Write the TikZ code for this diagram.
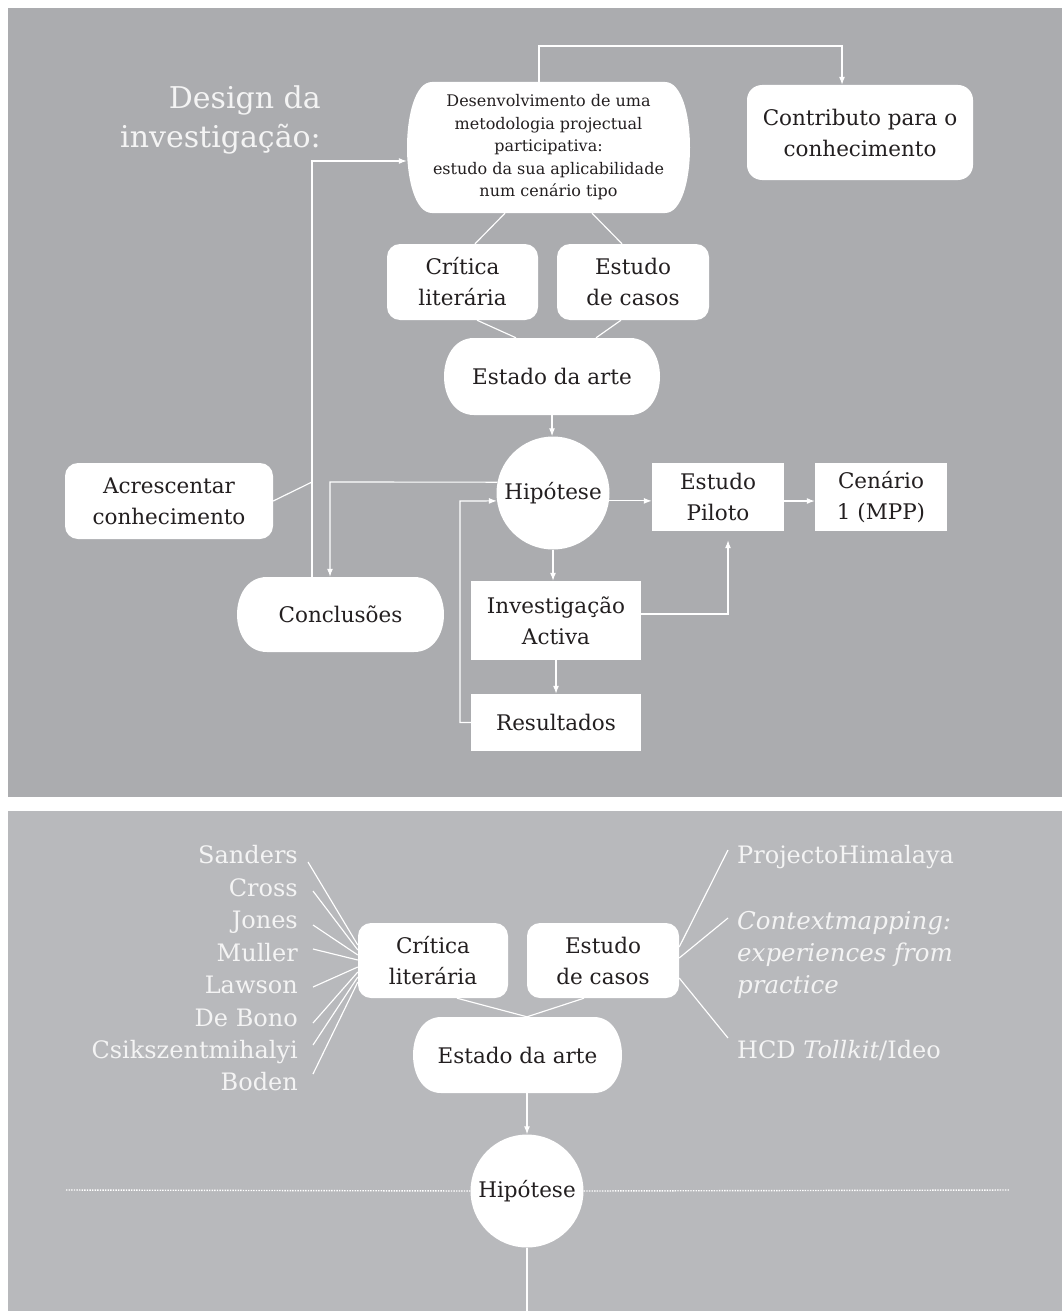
\documentclass[tikz,border=0pt]{standalone}
\usepackage{fontspec}
\setmainfont{DejaVu Serif}
\usetikzlibrary{arrows.meta}

\definecolor{panelA}{HTML}{ABACAF}
\definecolor{panelB}{HTML}{B8B9BC}
\definecolor{ink}{HTML}{231F20}
\definecolor{paper}{HTML}{F4F4F4}

% white box with flat top and bottom and bulging sides:
% centre (#1,#2), half width #3, half height #4, bulge of the sides #5
\newcommand\lensbody[5]{%
  \fill[lensfill]
    ({#1-#3+#5},{#2-#4}) -- ({#1+#3-#5},{#2-#4})
    .. controls ({#1+#3+0.333*#5},{#2-#4}) and ({#1+#3+0.333*#5},{#2+#4}) .. ({#1+#3-#5},{#2+#4})
    -- ({#1-#3+#5},{#2+#4})
    .. controls ({#1-#3-0.333*#5},{#2+#4}) and ({#1-#3-0.333*#5},{#2-#4}) .. ({#1-#3+#5},{#2-#4})
    -- cycle;}

\begin{document}
\begin{tikzpicture}[x=1pt,y=-1pt,
  lbl/.style={font=\fontsize{21.5}{31}\selectfont, text=ink, align=center, inner sep=0pt},
  card/.style={lbl, rectangle, rounded corners=13pt, fill=white},
  flatbox/.style={lbl, rectangle, fill=white},
  lensfill/.style={fill=white},
  ball/.style={lbl, circle, fill=white, minimum size=113pt},
  namelbl/.style={font=\fontsize{24}{32.4}\selectfont, text=paper, inner sep=0pt, text height=17pt, text depth=0pt},
  wire/.style={draw=white, line width=1.15pt},
  arr/.style={wire, -{Latex[length=8pt,width=6pt]}},
  dots/.style={draw=white, line width=1.4pt, dash pattern=on 1.4pt off 1.2pt}
]
\useasboundingbox (0,0) rectangle (1062,1311);
\fill[white] (0,0) rectangle (1062,1311);
\fill[panelA] (8,8) rectangle (1062,797);
\fill[panelB] (8,811) rectangle (1062,1311);

% ---------- upper panel: research design ----------
\node[font=\fontsize{30}{39}\selectfont, text=paper, align=right, anchor=east, inner sep=0pt]
  (heading) at (321,120) {Design da\\investigação:};

\lensbody{548.5}{147.5}{141.5}{65.5}{25}
\node[lbl, minimum width=283pt, minimum height=131pt, font=\fontsize{16}{22.5}\selectfont] (desen) at (548.5,147.5)
  {Desenvolvimento de uma\\metodologia projectual\\participativa:\\estudo da sua aplicabilidade\\num cenário tipo};
\node[card, rounded corners=15pt, minimum width=226pt, minimum height=95pt] (contrib) at (860,132.5)
  {Contributo para o\\conhecimento};
\node[card, minimum width=151pt, minimum height=76pt] (crit) at (462.5,282) {Crítica\\literária};
\node[card, minimum width=152pt, minimum height=76pt] (estu) at (633,282) {Estudo\\de casos};
\lensbody{552}{376.5}{108}{38.5}{30}
\node[lbl, minimum width=216pt, minimum height=77pt] (estado) at (552,376.5) {Estado da arte};
\node[ball] (hip) at (553,493) {Hipótese};
\node[flatbox, minimum width=132pt, minimum height=68pt] (piloto) at (718,497) {Estudo\\Piloto};
\node[flatbox, minimum width=132pt, minimum height=68pt] (cenario) at (881,497) {Cenário\\1 (MPP)};
\node[flatbox, minimum width=170pt, minimum height=79pt] (invest) at (556,620.5) {Investigação\\Activa};
\node[flatbox, minimum width=170pt, minimum height=57pt] (result) at (556,722.5) {Resultados};
\lensbody{340.5}{614.5}{103.5}{37.5}{30}
\node[lbl, minimum width=207pt, minimum height=75pt] (concl) at (340.5,614.5) {Conclusões};
\node[card, minimum width=208pt, minimum height=76pt] (acresc) at (169,501) {Acrescentar\\conhecimento};

% routing points
\coordinate (t1) at (539,46);
\coordinate (t2) at (842,46);
\coordinate (c1) at (312,161);
\coordinate (c2) at (312,482);
\coordinate (c3) at (330,482);
\coordinate (c4) at (460,501);
\coordinate (c5) at (728,614);

\draw[arr] (t1 |- desen.north) -- (t1) -- (t2) -- (t2 |- contrib.north);
\draw[wire] ([xshift=-43.5pt]desen.south) -- ([xshift=12.5pt]crit.north);
\draw[wire] ([xshift=43.5pt]desen.south) -- ([xshift=-11pt]estu.north);
\draw[wire] ([xshift=14.5pt]crit.south) -- ([xshift=-36pt]estado.north);
\draw[wire] ([xshift=-12pt]estu.south) -- ([xshift=44pt]estado.north);
\draw[arr] (estado.south) -- (estado.south |- hip.north);
\draw[arr] (hip.-8) -- (hip.-8 -| piloto.west);
\draw[arr] ([yshift=-4pt]piloto.east) -- ([yshift=-4pt]cenario.west);
\draw[arr] (hip.south) -- (hip.south |- invest.north);
\draw[arr] (invest.south) -- (result.north);
\draw[arr, shorten >=9pt] ([yshift=6.5pt]invest.east) -- (c5) -- (c5 |- piloto.south);
\draw[arr] (result.west) -- (result.west -| c4) -- (c4) -- (hip.188);
\draw[arr] (hip.169) -- (c3) -- (c3 |- concl.north);
\draw[arr] (c1 |- concl.north) -- (c1) -- (c1 -| desen.west);
\draw[wire] (acresc.east) -- (c2);

% ---------- lower panel: state of the art ----------
\node[card, minimum width=150pt, minimum height=75pt] (bcrit) at (433,960.5) {Crítica\\literária};
\node[card, minimum width=152pt, minimum height=75pt] (bestu) at (603,960.5) {Estudo\\de casos};
\lensbody{517.5}{1055}{104.5}{38}{28}
\node[lbl, minimum width=209pt, minimum height=76pt] (bestado) at (517.5,1055) {Estado da arte};
\node[ball] (bhip) at (527,1191) {Hipótese};

\draw[wire] ([xshift=24pt]bcrit.south) -- (bhip.north |- bestado.north) -- ([xshift=-19pt]bestu.south);
\draw[arr] (bhip.north |- bestado.south) -- (bhip.north);
\coordinate (floor) at (527,1311);
\draw[wire] (bhip.south) -- (floor);
\coordinate (dl) at (66,1190);
\coordinate (dr) at (1010,1190);
\draw[dots] (dl) -- (bhip.west);
\draw[dots] (bhip.east) -- (dr);

% authors feeding the literature review
\foreach \who/\yy/\dx/\sy/\ey [count=\i] in {
    Sanders/855/10/-7/15.5,
    Cross/888/15/-3/10.5,
    Jones/920/15/-5/5.5,
    Muller/953/15/4/0.5,
    Lawson/985/15/-2/-6.5,
    De Bono/1018/15/-5/-11.5,
    Csikszentmihalyi/1050/15/5/-16.5,
    Boden/1082/15/8/-21.5} {
  \node[namelbl, anchor=east] (n\i) at (298,\yy) {\who};
  \draw[wire] ([shift={(\dx pt,\sy pt)}]n\i.east) -- ([yshift=\ey pt]bcrit.west);
}

% case studies
\node[namelbl, anchor=west] (r1) at (737,855) {ProjectoHimalaya};
\node[font=\fontsize{24.5}{32}\selectfont\itshape, text=paper, inner sep=0pt, align=left, anchor=west]
  (r2) at (737,955) {Contextmapping:\\experiences from\\practice};
\node[namelbl, anchor=west] (r3) at (737,1050) {HCD \textit{Tollkit}/Ideo};
\draw[wire] ([yshift=13.5pt]bestu.east) -- ([shift={(-9pt,5pt)}]r1.west);
\draw[wire] ([yshift=2.5pt]bestu.east) -- ([shift={(-9pt,37pt)}]r2.west);
\draw[wire] ([yshift=-17.5pt]bestu.east) -- ([shift={(-9pt,12pt)}]r3.west);
\end{tikzpicture}
\end{document}
